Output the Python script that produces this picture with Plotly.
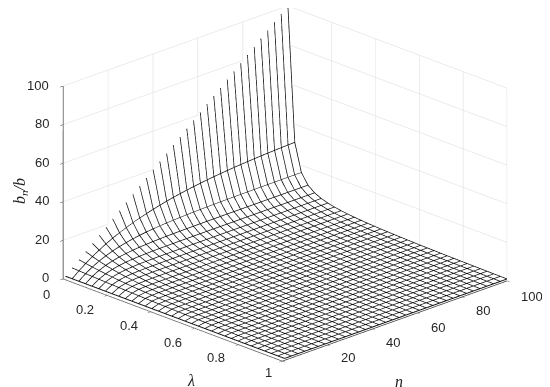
import plotly.graph_objects as go

# grid of the mesh
lam = [0.0, 0.0313, 0.0615, 0.0918, 0.1221, 0.1524, 0.1826, 0.2129, 0.2432, 0.2735, 0.3037, 0.3340,
       0.3643, 0.3946, 0.4249, 0.4551, 0.4854, 0.5157, 0.5460, 0.5763, 0.6065, 0.6368, 0.6671, 0.6974,
       0.7276, 0.7579, 0.7882, 0.8185, 0.8488, 0.8790, 0.9093, 0.9396, 0.9698, 1.0]
n_vals = [1, 4, 7, 10, 13, 16, 19, 22, 25, 28, 31, 34, 37, 40, 43, 46, 49, 52, 55, 58, 61, 64, 67, 70,
          73, 76, 79, 82, 85, 88, 91, 94, 97, 100]

# b_n/b, one row per lambda, one column per n
bn_b = [
    [1, 4, 7, 10, 13, 16, 19, 22, 25, 28, 31, 34, 37, 40, 43, 46, 49, 52, 55, 58, 61, 64, 67, 70, 73, 76, 79, 82, 85, 88, 91, 94, 97, 100],
    [1, 3.81, 6.37, 8.7, 10.81, 12.74, 14.49, 16.07, 17.52, 18.83, 20.02, 21.11, 22.1, 22.99, 23.81, 24.55, 25.22, 25.83, 26.39, 26.89, 27.36, 27.77, 28.15, 28.5, 28.81, 29.1, 29.36, 29.6, 29.81, 30, 30.18, 30.34, 30.49, 30.62],
    [1, 3.65, 5.83, 7.64, 9.13, 10.37, 11.39, 12.24, 12.93, 13.51, 13.99, 14.38, 14.71, 14.98, 15.2, 15.38, 15.53, 15.66, 15.76, 15.85, 15.92, 15.98, 16.03, 16.07, 16.1, 16.13, 16.15, 16.17, 16.19, 16.2, 16.21, 16.22, 16.23, 16.23],
    [1, 3.48, 5.34, 6.73, 7.78, 8.56, 9.14, 9.58, 9.91, 10.16, 10.34, 10.48, 10.58, 10.66, 10.72, 10.76, 10.79, 10.82, 10.84, 10.85, 10.86, 10.87, 10.87, 10.88, 10.88, 10.88, 10.89, 10.89, 10.89, 10.89, 10.89, 10.89, 10.89, 10.89],
    [1, 3.32, 4.9, 5.96, 6.68, 7.17, 7.5, 7.72, 7.87, 7.98, 8.05, 8.09, 8.12, 8.15, 8.16, 8.17, 8.18, 8.18, 8.19, 8.19, 8.19, 8.19, 8.19, 8.19, 8.19, 8.19, 8.19, 8.19, 8.19, 8.19, 8.19, 8.19, 8.19, 8.19],
    [1, 3.17, 4.5, 5.3, 5.8, 6.09, 6.28, 6.39, 6.46, 6.5, 6.52, 6.54, 6.55, 6.55, 6.56, 6.56, 6.56, 6.56, 6.56, 6.56, 6.56, 6.56, 6.56, 6.56, 6.56, 6.56, 6.56, 6.56, 6.56, 6.56, 6.56, 6.56, 6.56, 6.56],
    [1, 3.03, 4.14, 4.75, 5.08, 5.26, 5.36, 5.41, 5.44, 5.46, 5.47, 5.48, 5.48, 5.48, 5.48, 5.48, 5.48, 5.48, 5.48, 5.48, 5.48, 5.48, 5.48, 5.48, 5.48, 5.48, 5.48, 5.48, 5.48, 5.48, 5.48, 5.48, 5.48, 5.48],
    [1, 2.9, 3.82, 4.27, 4.49, 4.6, 4.65, 4.68, 4.69, 4.7, 4.7, 4.7, 4.7, 4.7, 4.7, 4.7, 4.7, 4.7, 4.7, 4.7, 4.7, 4.7, 4.7, 4.7, 4.7, 4.7, 4.7, 4.7, 4.7, 4.7, 4.7, 4.7, 4.7, 4.7],
    [1, 2.76, 3.53, 3.86, 4, 4.06, 4.09, 4.1, 4.11, 4.11, 4.11, 4.11, 4.11, 4.11, 4.11, 4.11, 4.11, 4.11, 4.11, 4.11, 4.11, 4.11, 4.11, 4.11, 4.11, 4.11, 4.11, 4.11, 4.11, 4.11, 4.11, 4.11, 4.11, 4.11],
    [1, 2.64, 3.27, 3.51, 3.6, 3.64, 3.65, 3.66, 3.66, 3.66, 3.66, 3.66, 3.66, 3.66, 3.66, 3.66, 3.66, 3.66, 3.66, 3.66, 3.66, 3.66, 3.66, 3.66, 3.66, 3.66, 3.66, 3.66, 3.66, 3.66, 3.66, 3.66, 3.66, 3.66],
    [1, 2.52, 3.03, 3.2, 3.26, 3.28, 3.29, 3.29, 3.29, 3.29, 3.29, 3.29, 3.29, 3.29, 3.29, 3.29, 3.29, 3.29, 3.29, 3.29, 3.29, 3.29, 3.29, 3.29, 3.29, 3.29, 3.29, 3.29, 3.29, 3.29, 3.29, 3.29, 3.29, 3.29],
    [1, 2.4, 2.82, 2.94, 2.98, 2.99, 2.99, 2.99, 2.99, 2.99, 2.99, 2.99, 2.99, 2.99, 2.99, 2.99, 2.99, 2.99, 2.99, 2.99, 2.99, 2.99, 2.99, 2.99, 2.99, 2.99, 2.99, 2.99, 2.99, 2.99, 2.99, 2.99, 2.99, 2.99],
    [1, 2.3, 2.63, 2.72, 2.74, 2.74, 2.74, 2.74, 2.74, 2.74, 2.74, 2.74, 2.74, 2.74, 2.74, 2.74, 2.74, 2.74, 2.74, 2.74, 2.74, 2.74, 2.74, 2.74, 2.74, 2.74, 2.74, 2.74, 2.74, 2.74, 2.74, 2.74, 2.74, 2.74],
    [1, 2.19, 2.46, 2.52, 2.53, 2.53, 2.53, 2.53, 2.53, 2.53, 2.53, 2.53, 2.53, 2.53, 2.53, 2.53, 2.53, 2.53, 2.53, 2.53, 2.53, 2.53, 2.53, 2.53, 2.53, 2.53, 2.53, 2.53, 2.53, 2.53, 2.53, 2.53, 2.53, 2.53],
    [1, 2.1, 2.3, 2.34, 2.35, 2.35, 2.35, 2.35, 2.35, 2.35, 2.35, 2.35, 2.35, 2.35, 2.35, 2.35, 2.35, 2.35, 2.35, 2.35, 2.35, 2.35, 2.35, 2.35, 2.35, 2.35, 2.35, 2.35, 2.35, 2.35, 2.35, 2.35, 2.35, 2.35],
    [1, 2, 2.17, 2.19, 2.2, 2.2, 2.2, 2.2, 2.2, 2.2, 2.2, 2.2, 2.2, 2.2, 2.2, 2.2, 2.2, 2.2, 2.2, 2.2, 2.2, 2.2, 2.2, 2.2, 2.2, 2.2, 2.2, 2.2, 2.2, 2.2, 2.2, 2.2, 2.2, 2.2],
    [1, 1.92, 2.04, 2.06, 2.06, 2.06, 2.06, 2.06, 2.06, 2.06, 2.06, 2.06, 2.06, 2.06, 2.06, 2.06, 2.06, 2.06, 2.06, 2.06, 2.06, 2.06, 2.06, 2.06, 2.06, 2.06, 2.06, 2.06, 2.06, 2.06, 2.06, 2.06, 2.06, 2.06],
    [1, 1.83, 1.92, 1.94, 1.94, 1.94, 1.94, 1.94, 1.94, 1.94, 1.94, 1.94, 1.94, 1.94, 1.94, 1.94, 1.94, 1.94, 1.94, 1.94, 1.94, 1.94, 1.94, 1.94, 1.94, 1.94, 1.94, 1.94, 1.94, 1.94, 1.94, 1.94, 1.94, 1.94],
    [1, 1.75, 1.82, 1.83, 1.83, 1.83, 1.83, 1.83, 1.83, 1.83, 1.83, 1.83, 1.83, 1.83, 1.83, 1.83, 1.83, 1.83, 1.83, 1.83, 1.83, 1.83, 1.83, 1.83, 1.83, 1.83, 1.83, 1.83, 1.83, 1.83, 1.83, 1.83, 1.83, 1.83],
    [1, 1.68, 1.73, 1.74, 1.74, 1.74, 1.74, 1.74, 1.74, 1.74, 1.74, 1.74, 1.74, 1.74, 1.74, 1.74, 1.74, 1.74, 1.74, 1.74, 1.74, 1.74, 1.74, 1.74, 1.74, 1.74, 1.74, 1.74, 1.74, 1.74, 1.74, 1.74, 1.74, 1.74],
    [1, 1.61, 1.65, 1.65, 1.65, 1.65, 1.65, 1.65, 1.65, 1.65, 1.65, 1.65, 1.65, 1.65, 1.65, 1.65, 1.65, 1.65, 1.65, 1.65, 1.65, 1.65, 1.65, 1.65, 1.65, 1.65, 1.65, 1.65, 1.65, 1.65, 1.65, 1.65, 1.65, 1.65],
    [1, 1.54, 1.57, 1.57, 1.57, 1.57, 1.57, 1.57, 1.57, 1.57, 1.57, 1.57, 1.57, 1.57, 1.57, 1.57, 1.57, 1.57, 1.57, 1.57, 1.57, 1.57, 1.57, 1.57, 1.57, 1.57, 1.57, 1.57, 1.57, 1.57, 1.57, 1.57, 1.57, 1.57],
    [1, 1.48, 1.5, 1.5, 1.5, 1.5, 1.5, 1.5, 1.5, 1.5, 1.5, 1.5, 1.5, 1.5, 1.5, 1.5, 1.5, 1.5, 1.5, 1.5, 1.5, 1.5, 1.5, 1.5, 1.5, 1.5, 1.5, 1.5, 1.5, 1.5, 1.5, 1.5, 1.5, 1.5],
    [1, 1.42, 1.43, 1.43, 1.43, 1.43, 1.43, 1.43, 1.43, 1.43, 1.43, 1.43, 1.43, 1.43, 1.43, 1.43, 1.43, 1.43, 1.43, 1.43, 1.43, 1.43, 1.43, 1.43, 1.43, 1.43, 1.43, 1.43, 1.43, 1.43, 1.43, 1.43, 1.43, 1.43],
    [1, 1.37, 1.37, 1.37, 1.37, 1.37, 1.37, 1.37, 1.37, 1.37, 1.37, 1.37, 1.37, 1.37, 1.37, 1.37, 1.37, 1.37, 1.37, 1.37, 1.37, 1.37, 1.37, 1.37, 1.37, 1.37, 1.37, 1.37, 1.37, 1.37, 1.37, 1.37, 1.37, 1.37],
    [1, 1.31, 1.32, 1.32, 1.32, 1.32, 1.32, 1.32, 1.32, 1.32, 1.32, 1.32, 1.32, 1.32, 1.32, 1.32, 1.32, 1.32, 1.32, 1.32, 1.32, 1.32, 1.32, 1.32, 1.32, 1.32, 1.32, 1.32, 1.32, 1.32, 1.32, 1.32, 1.32, 1.32],
    [1, 1.27, 1.27, 1.27, 1.27, 1.27, 1.27, 1.27, 1.27, 1.27, 1.27, 1.27, 1.27, 1.27, 1.27, 1.27, 1.27, 1.27, 1.27, 1.27, 1.27, 1.27, 1.27, 1.27, 1.27, 1.27, 1.27, 1.27, 1.27, 1.27, 1.27, 1.27, 1.27, 1.27],
    [1, 1.22, 1.22, 1.22, 1.22, 1.22, 1.22, 1.22, 1.22, 1.22, 1.22, 1.22, 1.22, 1.22, 1.22, 1.22, 1.22, 1.22, 1.22, 1.22, 1.22, 1.22, 1.22, 1.22, 1.22, 1.22, 1.22, 1.22, 1.22, 1.22, 1.22, 1.22, 1.22, 1.22],
    [1, 1.18, 1.18, 1.18, 1.18, 1.18, 1.18, 1.18, 1.18, 1.18, 1.18, 1.18, 1.18, 1.18, 1.18, 1.18, 1.18, 1.18, 1.18, 1.18, 1.18, 1.18, 1.18, 1.18, 1.18, 1.18, 1.18, 1.18, 1.18, 1.18, 1.18, 1.18, 1.18, 1.18],
    [1, 1.14, 1.14, 1.14, 1.14, 1.14, 1.14, 1.14, 1.14, 1.14, 1.14, 1.14, 1.14, 1.14, 1.14, 1.14, 1.14, 1.14, 1.14, 1.14, 1.14, 1.14, 1.14, 1.14, 1.14, 1.14, 1.14, 1.14, 1.14, 1.14, 1.14, 1.14, 1.14, 1.14],
    [1, 1.1, 1.1, 1.1, 1.1, 1.1, 1.1, 1.1, 1.1, 1.1, 1.1, 1.1, 1.1, 1.1, 1.1, 1.1, 1.1, 1.1, 1.1, 1.1, 1.1, 1.1, 1.1, 1.1, 1.1, 1.1, 1.1, 1.1, 1.1, 1.1, 1.1, 1.1, 1.1, 1.1],
    [1, 1.06, 1.06, 1.06, 1.06, 1.06, 1.06, 1.06, 1.06, 1.06, 1.06, 1.06, 1.06, 1.06, 1.06, 1.06, 1.06, 1.06, 1.06, 1.06, 1.06, 1.06, 1.06, 1.06, 1.06, 1.06, 1.06, 1.06, 1.06, 1.06, 1.06, 1.06, 1.06, 1.06],
    [1, 1.03, 1.03, 1.03, 1.03, 1.03, 1.03, 1.03, 1.03, 1.03, 1.03, 1.03, 1.03, 1.03, 1.03, 1.03, 1.03, 1.03, 1.03, 1.03, 1.03, 1.03, 1.03, 1.03, 1.03, 1.03, 1.03, 1.03, 1.03, 1.03, 1.03, 1.03, 1.03, 1.03],
    [1, 1, 1, 1, 1, 1, 1, 1, 1, 1, 1, 1, 1, 1, 1, 1, 1, 1, 1, 1, 1, 1, 1, 1, 1, 1, 1, 1, 1, 1, 1, 1, 1, 1],
]

lam_ticks = [0, 0.2, 0.4, 0.6, 0.8, 1]
n_ticks = [20, 40, 60, 80, 100]
z_ticks = [0, 20, 40, 60, 80, 100]

# small per-label nudges, the original labels do not sit at a fixed offset
lam_label_dx = [-11, -11, -11, -11, -11, -8]
lam_label_dy = [-16, -14, -14, -14, -13, -11]
n_label_dy = [-12, -13, -14, -14, -16]

fig = go.Figure()

# white surface, the mesh lines are its contours so they stay on top of it
# (levels kept a hair inside the grid, a level right on the border is not drawn)
mesh = dict(show=True, color="#000000", width=3, highlight=False)
fig.add_trace(go.Surface(
    x=lam, y=n_vals, z=list(map(list, zip(*bn_b))),
    colorscale=[[0, "white"], [1, "white"]], showscale=False,
    lighting=dict(ambient=1, diffuse=0, specular=0, fresnel=0),
    contours=dict(
        x=dict(mesh, start=lam[1], end=lam[-1], size=0.030269),
        y=dict(mesh, start=n_vals[0] + 0.0001, end=n_vals[-1], size=2.99997),
    ),
    hoverinfo="skip",
))

# contours stop at one pixel, same lines again on top to get the weight of the original
heavy = dict(color="#333333", width=2)
for j, nv in enumerate(n_vals):
    fig.add_trace(go.Scatter3d(x=lam, y=[nv] * len(lam), z=[row[j] for row in bn_b],
                               mode="lines", line=heavy, showlegend=False, hoverinfo="skip"))
for i in range(1, len(lam)):
    fig.add_trace(go.Scatter3d(x=[lam[i]] * len(n_vals), y=n_vals, z=bn_b[i],
                               mode="lines", line=heavy, showlegend=False, hoverinfo="skip"))

font_tick = dict(family="Liberation Sans", size=13, color="#262626")
font_math = dict(family="Liberation Serif", size=16, color="#222222")
annots = []
for v, dx, dy in zip(lam_ticks, lam_label_dx, lam_label_dy):
    annots.append(dict(x=v, y=0, z=0, text=str(v), showarrow=False, font=font_tick,
                       xanchor="right", yanchor="middle", xshift=dx, yshift=dy))
for v, dy in zip(n_ticks, n_label_dy):
    annots.append(dict(x=1, y=v, z=0, text=str(v), showarrow=False, font=font_tick,
                       xanchor="left", yanchor="middle", xshift=12, yshift=dy))
for v in z_ticks:
    annots.append(dict(x=0, y=0, z=v, text=str(v), showarrow=False, font=font_tick,
                       xanchor="right", yanchor="middle", xshift=-12, yshift=1))

axis_style = dict(showbackground=False, showspikes=False, showticklabels=False, title="",
                  gridcolor="#d9d9d9", gridwidth=1, showline=True, linecolor="#333333", linewidth=1.5,
                  ticks="outside", ticklen=4, tickcolor="#333333", tickwidth=1, zeroline=False)

fig.update_layout(
    width=550, height=387,
    margin=dict(l=0, r=0, t=0, b=0),
    paper_bgcolor="white",
    showlegend=False,
    scene=dict(
        domain=dict(x=[0, 1], y=[0, 1]),
        aspectmode="manual",
        aspectratio=dict(x=1.622, y=1.622, z=1.071),
        camera=dict(
            projection=dict(type="orthographic"),
            up=dict(x=0, y=0, z=1),
            eye=dict(x=0.7295, y=-0.7265, z=0.305),
            center=dict(x=-0.0075, y=-0.0075, z=-0.10),
        ),
        xaxis=dict(axis_style, range=[0, 1], tickvals=lam_ticks),
        yaxis=dict(axis_style, range=[0, 100], tickvals=[0] + n_ticks),
        zaxis=dict(axis_style, range=[0, 100], tickvals=z_ticks),
        annotations=annots,
    ),
)

for label, px, py, angle in [("<i>b<sub>n</sub>/b</i>", 13, 183, -90), ("<i>λ</i>", 183, 372, 0), ("<i>n</i>", 391, 373, 0)]:
    fig.add_annotation(x=px / 550, y=1 - py / 387, xref="paper", yref="paper", text=label, xanchor="center",
                       yanchor="middle", showarrow=False, textangle=angle, font=font_math)

fig.write_html("out.html")
